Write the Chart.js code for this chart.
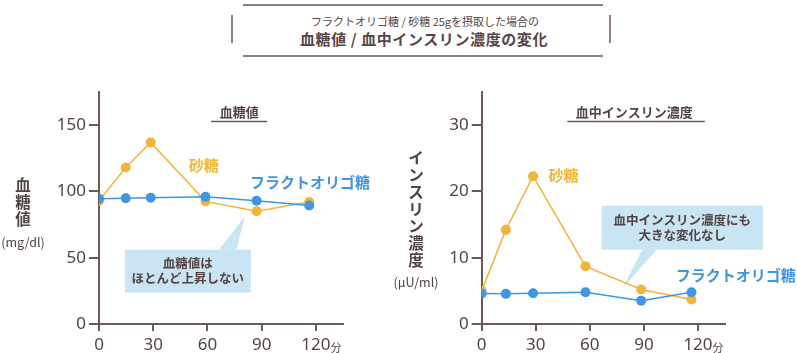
<!DOCTYPE html>
<html>
<head>
<meta charset="utf-8">
<script src="https://cdn.jsdelivr.net/npm/chart.js@4.4.1/dist/chart.umd.min.js"></script>
<style>
  body { margin: 0; background: #fff; width: 797px; height: 353px; position: relative; overflow: hidden;
         font-family: "Noto Sans CJK JP", sans-serif; color: #574646; }
  .rule { position: absolute; background: #8f7e7c; }
  .title { position: absolute; text-align: center; white-space: nowrap; }
  #sub { left: 225px; width: 400px; top: 13px; font-size: 11px; line-height: 17px; }
  #main { left: 224px; width: 400px; top: 28px; font-size: 15px; line-height: 21px; font-weight: 700; letter-spacing: 0.6px; }
  canvas { position: absolute; top: 60px; }
  #glucose { left: 0; }
  #insulin { left: 380px; }
</style>
</head>
<body>
<div class="rule" style="left:243px;top:4px;width:360px;height:1.5px"></div>
<div class="rule" style="left:243px;top:55px;width:360px;height:1.5px"></div>
<div class="rule" style="left:231px;top:15px;width:1.5px;height:28px"></div>
<div class="rule" style="left:609px;top:15px;width:1.5px;height:28px"></div>
<div class="title" id="sub">フラクトオリゴ糖 / 砂糖 25gを摂取した場合の</div>
<div class="title" id="main">血糖値 / 血中インスリン濃度の変化</div>

<canvas id="glucose" width="380" height="293"></canvas>
<canvas id="insulin" width="417" height="293"></canvas>

<script>
// sampling times as drawn (minutes)
const glucoseTimes = [0, 14.8, 28.6, 58.9, 87.2, 116.3];
const insulinTimes = [0, 13.4, 28.5, 57.6, 88.5, 116.4];

// blood glucose (mg/dl)
const glucoseSugar = [93, 118, 137, 92.5, 85, 92];
const glucoseFos   = [94.5, 94.8, 95.3, 96, 93, 89.4];

// insulin (μU/ml)
const insulinSugar = [5.0, 14.2, 22.3, 8.7, 5.2, 3.7];
const insulinFos   = [4.6, 4.55, 4.65, 4.8, 3.5, 4.8];

const xTickStep = 30;
const glucoseTickStep = 50;
const insulinTickStep = 10;

const ORANGE = "#f2b53b";
const BLUE = "#3f96e2";
const AXIS = "#6d5858";
const TEXT = "#534343";
const BOX = "#c9e4f2";
const JP = '"Noto Sans CJK JP", sans-serif';

function toXY(xs, ys) {
  return xs.map((x, i) => ({ x: x, y: ys[i] }));
}

const notesPlugin = {
  id: "notes",
  beforeDatasetsDraw(chart, args, o) {
    const { x, y } = chart.scales;
    const ctx = chart.ctx;
    const c = o.callout;
    const x0 = x.getPixelForValue(c.x0), x1 = x.getPixelForValue(c.x1);
    const y0 = y.getPixelForValue(c.y0), y1 = y.getPixelForValue(c.y1);
    const edge = c.edge === "top" ? y0 : y1;
    ctx.save();
    ctx.fillStyle = BOX;
    ctx.fillRect(x0, y0, x1 - x0, y1 - y0);
    ctx.beginPath();
    ctx.moveTo(x.getPixelForValue(c.base[0]), edge);
    ctx.lineTo(x.getPixelForValue(c.tip[0]), y.getPixelForValue(c.tip[1]));
    ctx.lineTo(x.getPixelForValue(c.base[1]), edge);
    ctx.closePath();
    ctx.fill();
    ctx.restore();
  },
  afterDraw(chart, args, o) {
    const { x, y } = chart.scales;
    const ctx = chart.ctx;
    ctx.save();
    ctx.textAlign = "center";
    ctx.textBaseline = "middle";

    // callout text
    const c = o.callout;
    const cx = (x.getPixelForValue(c.x0) + x.getPixelForValue(c.x1)) / 2;
    const cy = (y.getPixelForValue(c.y0) + y.getPixelForValue(c.y1)) / 2;
    ctx.fillStyle = TEXT;
    ctx.font = "700 12.5px " + JP;
    c.lines.forEach((t, i) => ctx.fillText(t, cx, cy + (i - (c.lines.length - 1) / 2) * 15));

    // heading with underline
    const h = o.heading;
    ctx.font = "700 13px " + JP;
    ctx.fillText(h.text, x.getPixelForValue(h.x), y.getPixelForValue(h.y));
    ctx.strokeStyle = AXIS;
    ctx.lineWidth = 1.5;
    ctx.beginPath();
    const ly = Math.round(y.getPixelForValue(h.lineY)) + 0.5;
    ctx.moveTo(x.getPixelForValue(h.lineFrom), ly);
    ctx.lineTo(x.getPixelForValue(h.lineTo), ly);
    ctx.stroke();

    // series labels
    ctx.font = "700 15px " + JP;
    o.labels.forEach(l => {
      ctx.fillStyle = l.color;
      ctx.fillText(l.text, x.getPixelForValue(l.x), y.getPixelForValue(l.y));
    });

    // vertical axis title
    const t = o.yTitle;
    ctx.fillStyle = TEXT;
    ctx.font = "700 15.5px " + JP;
    t.chars.forEach((ch, i) => ctx.fillText(ch, t.x, t.y + i * t.step));
    ctx.font = "12.5px " + JP;
    ctx.fillText(t.unit, t.x, t.unitY);

    // minutes unit after the last tick
    ctx.font = "11px " + JP;
    ctx.fillText("分", x.getPixelForValue(120) + 20, chart.chartArea.bottom + 24);
    ctx.restore();
  }
};

function makeChart(id, cfg) {
  return new Chart(document.getElementById(id), {
    type: "line",
    data: {
      datasets: [
        { label: "フラクトオリゴ糖", data: toXY(cfg.times, cfg.fos), borderColor: BLUE, backgroundColor: BLUE,
          borderWidth: 1.5, pointRadius: 5, pointBorderWidth: 0, tension: 0 },
        { label: "砂糖", data: toXY(cfg.times, cfg.sugar), borderColor: ORANGE, backgroundColor: ORANGE,
          borderWidth: 1.5, pointRadius: 5, pointBorderWidth: 0, tension: 0 }
      ]
    },
    options: {
      animation: false,
      responsive: false,
      layout: { padding: { top: 32, right: cfg.padRight, left: 0, bottom: 0 } },
      plugins: { legend: { display: false }, tooltip: { enabled: false }, notes: cfg.notes },
      scales: {
        x: {
          type: "linear", min: 0, max: 135,
          ticks: { stepSize: xTickStep, includeBounds: false, color: TEXT, padding: 4,
                   font: { family: '"Noto Sans", sans-serif', size: 17 } },
          grid: { drawOnChartArea: false, tickLength: 7, color: AXIS, lineWidth: 2 },
          border: { color: AXIS, width: 2 },
          afterFit(s) { s.height = 29; }
        },
        y: {
          min: 0, max: cfg.yMax,
          ticks: { stepSize: cfg.yStep, includeBounds: false, color: TEXT, padding: 3,
                   font: { family: '"Noto Sans", sans-serif', size: 17 } },
          grid: { drawOnChartArea: false, tickLength: 10, color: AXIS, lineWidth: 2 },
          border: { color: AXIS, width: 2 },
          afterFit(s) { s.width = cfg.yWidth; }
        }
      }
    },
    plugins: [notesPlugin]
  });
}

makeChart("glucose", {
  times: glucoseTimes, sugar: glucoseSugar, fos: glucoseFos,
  yMax: 175, yStep: glucoseTickStep, yWidth: 99, padRight: 37,
  notes: {
    heading: { text: "血糖値", x: 77.6, y: 159.6, lineFrom: 62, lineTo: 93, lineY: 153.2 },
    labels: [
      { text: "砂糖", x: 58, y: 119.5, color: ORANGE },
      { text: "フラクトオリゴ糖", x: 116.7, y: 106.7, color: BLUE }
    ],
    callout: { x0: 14.3, x1: 84, y0: 56, y1: 23.7, edge: "top", base: [66.3, 76], tip: [80.7, 81],
               lines: ["血糖値は", "ほとんど上昇しない"] },
    yTitle: { chars: ["血", "糖", "値"], x: 23, y: 125, step: 17.3, unit: "(mg/dl)", unitY: 182 }
  }
});

makeChart("insulin", {
  times: insulinTimes, sugar: insulinSugar, fos: insulinFos,
  yMax: 35, yStep: insulinTickStep, yWidth: 101.7, padRight: 72,
  notes: {
    heading: { text: "血中インスリン濃度", x: 84.7, y: 32.0, lineFrom: 47.5, lineTo: 123.8, lineY: 30.6 },
    labels: [
      { text: "砂糖", x: 45.4, y: 22.5, color: ORANGE },
      { text: "フラクトオリゴ糖", x: 141, y: 7.4, color: BLUE }
    ],
    callout: { x0: 66.5, x1: 156, y0: 17.85, y1: 11.2, edge: "bottom", base: [89, 97], tip: [78.2, 5.4],
               lines: ["血中インスリン濃度にも", "大きな変化なし"] },
    yTitle: { chars: ["イ", "ン", "ス", "リ", "ン", "濃", "度"], x: 36, y: 98, step: 17, unit: "(μU/ml)", unitY: 222 }
  }
});
</script>
</body>
</html>
